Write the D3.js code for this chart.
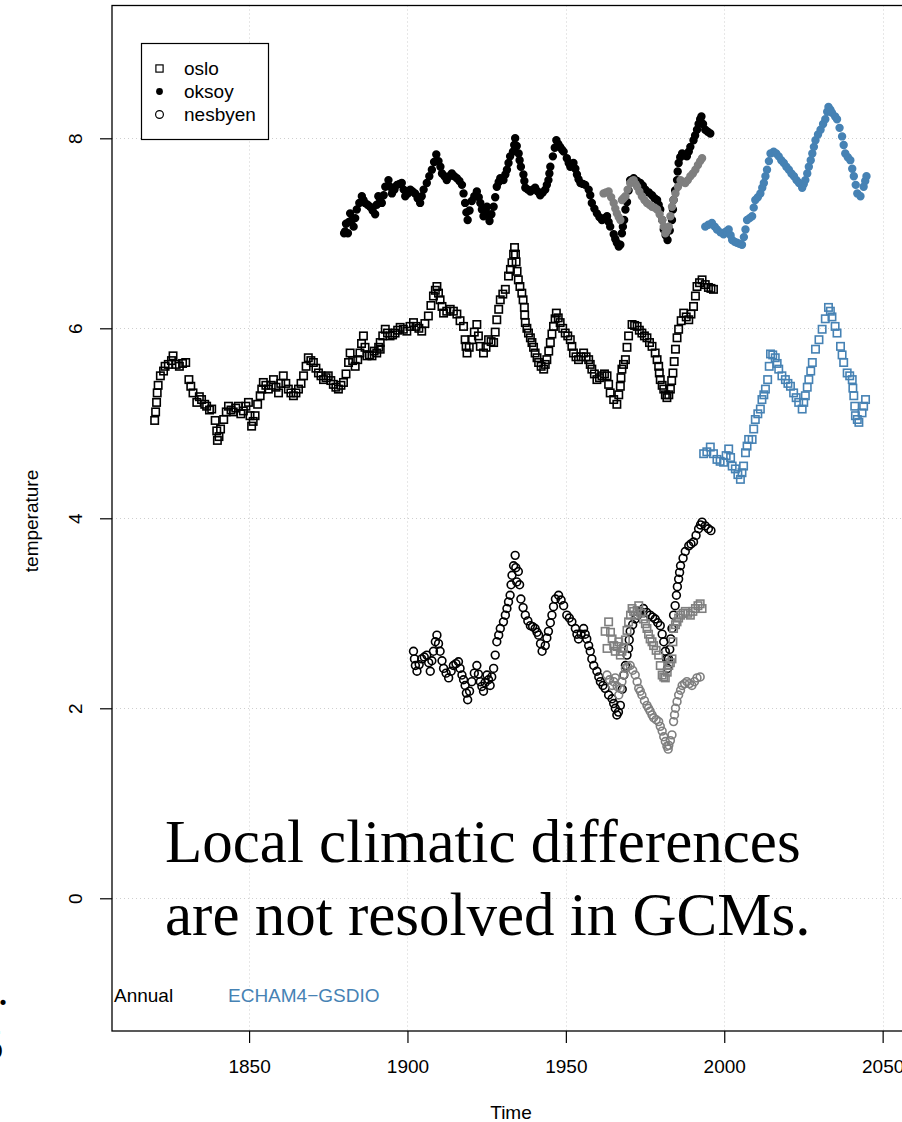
<!DOCTYPE html>
<html>
<head>
<meta charset="utf-8">
<script src="https://cdn.jsdelivr.net/npm/d3@7/dist/d3.min.js"></script>
<style>
  body { margin: 0; background: #ffffff; }
  svg { display: block; }
</style>
</head>
<body>
<svg id="chart" width="902" height="1122"></svg>
<script>
// Station annual temperature series, [year, temperature] pairs
const oslo = [
  [1820.2,5.03],[1820.5,5.12],[1820.8,5.22],[1821.0,5.32],[1821.3,5.40],[1822.0,5.50],[1823.0,5.55],[1823.5,5.60],
  [1824.5,5.62],[1825.5,5.66],[1826.0,5.71],[1827.0,5.62],[1828.0,5.60],[1829.0,5.63],[1830.0,5.64],[1831.0,5.46],
  [1831.6,5.39],[1832.3,5.32],[1833.5,5.22],[1834.3,5.28],[1835.0,5.25],[1836.0,5.20],[1836.6,5.18],[1837.5,5.14],
  [1838.2,5.15],[1839.3,5.03],[1839.8,4.92],[1840.0,4.82],[1840.5,4.86],[1841.0,4.94],[1842.0,5.04],[1842.8,5.12],
  [1843.5,5.18],[1844.3,5.14],[1845.0,5.12],[1845.8,5.16],[1846.6,5.18],[1847.4,5.10],[1848.2,5.13],[1849.0,5.18],
  [1849.8,5.22],[1850.3,5.08],[1850.8,4.97],[1851.3,5.02],[1851.9,5.08],[1852.7,5.20],[1853.5,5.29],[1854.0,5.36],
  [1854.5,5.43],[1855.3,5.40],[1856.1,5.36],[1857.0,5.40],[1857.7,5.46],[1858.5,5.38],[1859.3,5.32],[1860.0,5.42],
  [1860.8,5.50],[1861.6,5.42],[1862.4,5.36],[1863.2,5.32],[1864.0,5.29],[1864.8,5.32],[1865.6,5.36],[1866.4,5.42],
  [1867.2,5.50],[1868.0,5.60],[1868.7,5.69],[1869.5,5.66],[1870.3,5.64],[1871.1,5.58],[1871.9,5.53],[1872.7,5.50],
  [1873.5,5.46],[1874.3,5.48],[1875.0,5.50],[1875.8,5.45],[1876.6,5.41],[1877.4,5.38],[1878.2,5.36],[1879.0,5.40],
  [1879.8,5.43],[1880.6,5.52],[1881.4,5.64],[1881.9,5.74],[1882.7,5.66],[1883.5,5.60],[1884.3,5.67],[1885.0,5.74],
  [1885.5,5.84],[1886.1,5.92],[1886.6,5.80],[1887.2,5.71],[1888.0,5.72],[1888.8,5.71],[1889.5,5.76],[1890.3,5.74],
  [1890.9,5.80],[1891.4,5.85],[1891.4,5.78],[1892.2,5.92],[1893.0,5.99],[1893.7,5.95],[1894.5,5.92],[1895.3,5.93],
  [1896.1,5.95],[1896.9,5.98],[1897.7,6.01],[1898.7,5.99],[1899.8,5.97],[1900.8,6.02],[1901.9,6.06],[1902.7,6.02],
  [1903.6,6.00],[1904.5,5.97],[1905.5,6.05],[1906.6,6.13],[1907.4,6.24],[1908.2,6.34],[1908.8,6.40],[1909.3,6.44],
  [1909.8,6.37],[1910.3,6.30],[1910.9,6.23],[1911.4,6.16],[1912.4,6.18],[1913.5,6.20],[1914.5,6.18],[1915.6,6.15],
  [1916.6,6.08],[1917.7,6.02],[1918.2,5.88],[1918.5,5.81],[1918.8,5.74],[1919.5,5.80],[1920.3,5.88],[1921.1,5.96],
  [1921.9,6.04],[1922.4,5.92],[1923.0,5.81],[1924.0,5.74],[1924.8,5.80],[1925.6,5.88],[1926.4,5.86],[1927.2,5.85],
  [1927.7,5.96],[1928.2,6.09],[1928.8,6.20],[1929.3,6.30],[1930.1,6.36],[1930.9,6.41],[1931.9,6.55],[1932.5,6.62],
  [1933.0,6.69],[1933.5,6.78],[1933.8,6.85],[1934.1,6.78],[1934.3,6.70],[1934.6,6.60],[1935.0,6.51],[1935.5,6.44],
  [1936.1,6.37],[1936.5,6.30],[1936.9,6.22],[1937.0,6.14],[1937.2,6.06],[1937.7,6.00],[1938.2,5.95],[1938.8,5.90],
  [1939.3,5.85],[1939.8,5.80],[1940.3,5.74],[1940.9,5.69],[1941.4,5.64],[1942.2,5.60],[1943.0,5.57],[1943.5,5.62],
  [1944.0,5.67],[1944.6,5.76],[1945.1,5.85],[1945.6,5.94],[1946.1,6.02],[1946.6,6.10],[1947.0,6.16],[1947.6,6.11],
  [1948.2,6.06],[1949.0,6.00],[1949.8,5.95],[1950.6,5.92],[1951.4,5.88],[1951.9,5.81],[1952.4,5.74],[1953.2,5.70],
  [1954.0,5.67],[1954.8,5.70],[1955.6,5.74],[1956.4,5.70],[1957.2,5.67],[1957.7,5.62],[1958.2,5.57],[1959.0,5.52],
  [1959.8,5.46],[1960.6,5.48],[1961.4,5.50],[1962.2,5.52],[1963.0,5.50],[1963.5,5.41],[1964.0,5.32],[1965.1,5.25],
  [1966.1,5.20],[1966.7,5.30],[1967.2,5.39],[1967.4,5.48],[1967.7,5.57],[1968.2,5.62],[1968.8,5.67],[1969.3,5.80],
  [1969.8,5.92],[1970.9,6.04],[1971.7,6.03],[1972.5,6.02],[1973.2,5.98],[1974.0,5.95],[1974.8,5.92],[1975.6,5.90],
  [1976.4,5.85],[1977.2,5.81],[1978.2,5.74],[1978.8,5.67],[1979.3,5.60],[1979.5,5.53],[1979.8,5.46],[1980.4,5.40],
  [1980.9,5.36],[1981.4,5.30],[1981.9,5.27],[1982.5,5.30],[1983.0,5.36],[1983.4,5.45],[1983.8,5.53],[1984.2,5.65],
  [1984.6,5.78],[1985.1,5.90],[1985.6,5.99],[1986.4,6.08],[1987.2,6.16],[1988.0,6.12],[1988.8,6.09],[1989.5,6.15],
  [1990.3,6.23],[1990.9,6.34],[1991.4,6.44],[1992.2,6.48],[1993.0,6.51],[1994.0,6.46],[1995.0,6.43],[1995.8,6.42],
  [1996.6,6.41]
];

const oksoy = [
  [1880.0,7.00],[1880.3,7.02],[1880.6,7.10],[1881.2,7.00],[1881.5,7.12],[1881.9,7.21],[1882.5,7.14],[1883.0,7.07],
  [1883.5,7.16],[1884.0,7.25],[1884.8,7.32],[1885.6,7.39],[1886.1,7.35],[1886.6,7.32],[1887.4,7.30],[1888.2,7.28],
  [1889.0,7.24],[1889.8,7.20],[1890.3,7.30],[1890.8,7.39],[1891.4,7.35],[1891.9,7.32],[1892.5,7.40],[1893.0,7.49],
  [1894.0,7.56],[1894.5,7.49],[1895.1,7.42],[1895.9,7.46],[1896.7,7.51],[1897.5,7.52],[1898.2,7.53],[1898.8,7.46],
  [1899.3,7.39],[1900.1,7.42],[1900.9,7.46],[1901.6,7.44],[1902.4,7.42],[1903.2,7.37],[1904.0,7.32],[1904.5,7.39],
  [1905.1,7.46],[1906.1,7.53],[1906.9,7.60],[1907.7,7.67],[1908.4,7.75],[1909.1,7.83],[1909.8,7.76],[1910.4,7.70],
  [1910.9,7.63],[1911.7,7.60],[1912.4,7.56],[1913.2,7.60],[1914.0,7.63],[1914.8,7.60],[1915.6,7.58],[1916.4,7.55],
  [1917.2,7.51],[1917.7,7.42],[1918.2,7.32],[1918.6,7.22],[1919.0,7.14],[1919.6,7.24],[1920.3,7.34],[1921.1,7.39],
  [1921.9,7.44],[1922.5,7.38],[1923.0,7.32],[1923.5,7.25],[1924.0,7.18],[1924.6,7.23],[1925.1,7.28],[1925.5,7.20],
  [1925.9,7.13],[1926.5,7.20],[1927.2,7.28],[1927.7,7.38],[1928.2,7.49],[1928.8,7.54],[1929.3,7.58],[1930.3,7.56],
  [1930.9,7.62],[1931.4,7.67],[1931.9,7.74],[1932.4,7.81],[1933.3,7.86],[1933.7,7.93],[1934.0,8.00],[1934.5,7.92],
  [1935.1,7.84],[1935.4,7.77],[1935.8,7.70],[1936.6,7.62],[1936.9,7.55],[1937.2,7.48],[1938.0,7.46],[1938.8,7.44],
  [1939.5,7.46],[1940.3,7.48],[1941.1,7.44],[1941.9,7.40],[1942.7,7.43],[1943.5,7.46],[1944.0,7.51],[1944.5,7.56],
  [1944.8,7.63],[1945.1,7.70],[1945.9,7.81],[1946.5,7.90],[1947.0,7.98],[1947.6,7.94],[1948.2,7.91],[1948.8,7.88],
  [1949.3,7.86],[1950.3,7.79],[1950.9,7.74],[1951.4,7.70],[1952.4,7.74],[1953.0,7.68],[1953.5,7.62],[1954.0,7.57],
  [1954.6,7.53],[1955.4,7.52],[1956.1,7.51],[1957.2,7.46],[1957.7,7.40],[1958.2,7.32],[1959.0,7.26],[1959.8,7.21],
  [1960.6,7.17],[1961.4,7.14],[1962.2,7.16],[1963.0,7.18],[1963.5,7.12],[1964.0,7.07],[1965.1,6.99],[1965.6,6.94],
  [1966.1,6.90],[1966.7,6.86],[1967.2,6.88],[1967.7,7.00],[1968.0,7.07],[1968.4,7.14],[1968.8,7.25],[1969.3,7.33],
  [1969.8,7.45],[1970.3,7.56],[1971.4,7.58],[1972.5,7.55],[1973.5,7.53],[1974.3,7.50],[1975.1,7.46],[1976.2,7.43],
  [1977.2,7.40],[1978.0,7.37],[1978.8,7.35],[1979.3,7.30],[1979.8,7.25],[1980.4,7.14],[1980.9,7.04],[1981.5,6.98],
  [1982.1,6.93],[1982.8,7.03],[1983.5,7.14],[1983.8,7.25],[1984.0,7.35],[1984.5,7.45],[1985.1,7.56],[1985.3,7.65],
  [1985.6,7.74],[1986.1,7.80],[1986.7,7.84],[1987.4,7.82],[1988.2,7.81],[1988.8,7.86],[1989.3,7.91],[1990.3,7.98],
  [1990.8,8.03],[1991.4,8.09],[1991.9,8.15],[1992.4,8.20],[1992.8,8.23],[1993.3,8.15],[1994.0,8.09],[1994.8,8.07],
  [1995.6,8.05]
];

const nesbyen = [
  [1901.9,2.60],[1902.2,2.52],[1902.5,2.45],[1903.0,2.39],[1903.7,2.46],[1904.5,2.52],[1905.3,2.54],[1906.1,2.56],
  [1906.7,2.48],[1907.2,2.39],[1907.7,2.50],[1908.2,2.60],[1908.8,2.70],[1909.3,2.77],[1909.8,2.68],[1910.3,2.60],
  [1910.9,2.50],[1911.4,2.42],[1912.2,2.37],[1913.0,2.32],[1913.8,2.39],[1914.5,2.45],[1915.3,2.47],[1916.1,2.49],
  [1916.6,2.42],[1917.2,2.35],[1917.7,2.30],[1918.2,2.24],[1918.6,2.16],[1919.0,2.09],[1919.6,2.18],[1920.3,2.28],
  [1921.1,2.37],[1921.9,2.45],[1922.4,2.36],[1923.0,2.28],[1923.5,2.23],[1924.0,2.18],[1924.5,2.27],[1925.1,2.35],
  [1925.6,2.30],[1926.1,2.24],[1926.6,2.33],[1927.2,2.42],[1927.7,2.56],[1928.2,2.70],[1928.8,2.77],[1929.3,2.84],
  [1930.3,2.91],[1930.9,2.98],[1931.4,3.05],[1931.9,3.12],[1932.4,3.19],[1932.7,3.30],[1933.0,3.40],[1933.5,3.50],
  [1934.0,3.61],[1934.2,3.48],[1934.5,3.33],[1935.0,3.44],[1935.4,3.30],[1935.8,3.15],[1936.5,3.06],[1937.2,2.98],
  [1938.0,2.92],[1938.8,2.87],[1939.5,2.86],[1940.3,2.84],[1940.9,2.80],[1941.4,2.77],[1942.0,2.68],[1942.5,2.60],
  [1943.5,2.66],[1944.0,2.74],[1944.5,2.81],[1945.1,2.90],[1945.6,2.98],[1946.1,3.07],[1946.7,3.15],[1947.7,3.19],
  [1948.5,3.14],[1949.3,3.08],[1950.3,2.98],[1951.1,2.95],[1951.9,2.91],[1953.0,2.84],[1953.5,2.78],[1954.0,2.73],
  [1954.8,2.78],[1955.6,2.84],[1956.1,2.78],[1956.6,2.73],[1957.2,2.66],[1957.7,2.60],[1958.2,2.52],[1958.8,2.45],
  [1959.8,2.39],[1960.4,2.33],[1960.9,2.28],[1961.7,2.24],[1962.4,2.21],[1963.5,2.14],[1964.6,2.10],[1965.1,2.05],
  [1965.6,2.00],[1966.1,1.93],[1966.6,1.96],[1967.2,2.03],[1967.8,2.20],[1968.3,2.35],[1968.8,2.45],[1969.3,2.56],
  [1969.8,2.63],[1970.0,2.72],[1970.3,2.81],[1971.1,2.88],[1971.9,2.94],[1972.7,2.98],[1973.5,3.02],[1974.5,3.05],
  [1975.5,3.01],[1976.6,2.98],[1977.4,2.96],[1978.2,2.94],[1979.0,2.90],[1979.8,2.87],[1980.4,2.78],[1980.9,2.70],
  [1981.4,2.60],[1981.8,2.52],[1982.1,2.42],[1982.4,2.52],[1982.8,2.62],[1983.1,2.73],[1983.5,2.84],[1984.0,2.98],
  [1984.5,3.08],[1984.9,3.19],[1985.2,3.28],[1985.6,3.36],[1985.9,3.43],[1986.2,3.50],[1987.0,3.58],[1987.7,3.65],
  [1988.8,3.71],[1989.5,3.73],[1990.3,3.75],[1991.1,3.82],[1991.9,3.89],[1992.5,3.93],[1993.0,3.96],[1994.0,3.92],
  [1995.0,3.89],[1995.8,3.87]
];

// GCM values at the station locations, 1962-1993
const osloGcm = [
  [1962.4,2.81],[1963.0,2.63],[1963.5,2.91],[1964.1,2.80],[1964.6,2.73],[1965.1,2.66],[1965.6,2.60],[1966.2,2.65],
  [1966.7,2.70],[1967.2,2.56],[1967.7,2.60],[1968.2,2.63],[1968.8,2.72],[1969.3,2.82],[1969.8,2.91],[1970.4,2.98],
  [1970.9,3.05],[1971.4,3.02],[1971.9,2.98],[1972.5,3.03],[1973.0,3.08],[1973.7,3.00],[1974.5,2.94],[1975.1,2.89],
  [1975.6,2.84],[1976.1,2.78],[1976.6,2.73],[1977.2,2.70],[1977.7,2.66],[1978.5,2.61],[1979.3,2.56],[1979.8,2.45],
  [1980.4,2.35],[1980.9,2.33],[1981.4,2.32],[1982.0,2.38],[1982.5,2.45],[1983.0,2.48],[1983.5,2.52],[1983.8,2.70],
  [1984.0,2.84],[1984.6,2.88],[1985.1,2.91],[1985.6,2.95],[1986.2,2.98],[1987.0,3.00],[1987.7,3.02],[1988.5,3.00],
  [1989.3,2.98],[1990.1,3.02],[1990.9,3.05],[1991.7,3.08],[1992.4,3.10],[1993.0,3.05]
];

const oksoyGcm = [
  [1961.9,7.42],[1962.7,7.43],[1963.5,7.44],[1964.3,7.38],[1965.1,7.32],[1965.6,7.26],[1966.1,7.21],[1966.7,7.17],
  [1967.2,7.14],[1967.7,7.35],[1968.2,7.37],[1968.8,7.39],[1969.5,7.46],[1970.3,7.53],[1970.9,7.55],[1971.4,7.56],
  [1972.0,7.52],[1972.5,7.49],[1973.2,7.44],[1974.0,7.39],[1974.8,7.35],[1975.6,7.32],[1976.4,7.30],[1977.2,7.28],
  [1978.0,7.27],[1978.8,7.25],[1979.6,7.20],[1980.4,7.14],[1980.9,7.07],[1981.4,7.00],[1982.0,7.03],[1982.5,7.07],
  [1983.0,7.18],[1983.5,7.28],[1984.0,7.35],[1984.6,7.42],[1985.4,7.49],[1986.2,7.56],[1987.0,7.54],[1987.7,7.53],
  [1988.5,7.56],[1989.3,7.60],[1990.1,7.63],[1990.9,7.67],[1991.7,7.72],[1992.4,7.76],[1993.0,7.79]
];

const nesbyenGcm = [
  [1963.0,2.35],[1963.8,2.30],[1964.6,2.24],[1965.1,2.28],[1965.6,2.32],[1966.2,2.23],[1966.7,2.14],[1967.2,2.21],
  [1967.7,2.28],[1968.2,2.35],[1968.8,2.42],[1969.5,2.44],[1970.3,2.45],[1971.1,2.40],[1971.9,2.35],[1972.5,2.28],
  [1973.0,2.21],[1973.5,2.18],[1974.0,2.14],[1974.8,2.08],[1975.6,2.03],[1976.1,2.00],[1976.6,1.97],[1977.2,1.93],
  [1977.7,1.90],[1978.5,1.88],[1979.3,1.86],[1979.8,1.81],[1980.4,1.76],[1980.9,1.70],[1981.4,1.65],[1981.9,1.60],
  [1982.3,1.57],[1982.5,1.61],[1983.0,1.66],[1983.5,1.72],[1984.0,1.86],[1984.3,1.93],[1984.6,2.00],[1985.1,2.07],
  [1985.6,2.14],[1986.2,2.19],[1986.7,2.24],[1987.5,2.26],[1988.2,2.28],[1989.0,2.26],[1989.8,2.24],[1990.6,2.28],
  [1991.4,2.32],[1992.4,2.33]
];

// ECHAM4-GSDIO downscaled scenario, 1993-2045
const osloScen = [
  [1993.5,4.68],[1994.5,4.70],[1995.6,4.75],[1996.6,4.68],[1997.7,4.62],[1998.7,4.60],[1999.8,4.59],[2000.6,4.66],
  [2001.4,4.73],[2002.0,4.64],[2002.5,4.55],[2003.5,4.52],[2004.3,4.46],[2005.1,4.41],[2005.6,4.48],[2006.1,4.55],
  [2006.7,4.69],[2007.2,4.76],[2007.7,4.83],[2008.8,4.83],[2009.3,4.94],[2009.8,5.04],[2010.6,5.10],[2011.4,5.15],
  [2011.9,5.25],[2012.5,5.30],[2013.0,5.36],[2013.7,5.46],[2014.2,5.60],[2014.6,5.73],[2015.3,5.72],[2016.1,5.69],
  [2016.7,5.63],[2017.2,5.57],[2018.2,5.50],[2019.3,5.46],[2020.1,5.42],[2020.9,5.39],[2021.9,5.32],[2022.7,5.27],
  [2023.5,5.22],[2024.6,5.15],[2025.1,5.22],[2025.6,5.29],[2026.2,5.38],[2026.7,5.46],[2027.3,5.55],[2027.8,5.64],
  [2028.8,5.78],[2029.9,5.88],[2030.9,5.99],[2031.9,6.10],[2032.9,6.22],[2033.5,6.18],[2034.0,6.12],[2035.0,6.02],
  [2035.6,5.95],[2036.7,5.81],[2037.2,5.72],[2037.7,5.64],[2038.8,5.53],[2039.6,5.50],[2040.4,5.46],[2040.6,5.37],
  [2040.9,5.29],[2041.2,5.18],[2041.4,5.08],[2042.0,5.04],[2042.5,5.01],[2043.5,5.11],[2044.0,5.18],[2044.6,5.25]
];

const oksoyScen = [
  [1994.0,7.07],[1995.0,7.09],[1996.1,7.11],[1997.0,7.07],[1997.7,7.04],[1998.8,7.01],[1999.8,6.99],[2000.6,7.02],
  [2001.4,7.04],[2002.0,6.98],[2002.5,6.93],[2003.3,6.91],[2004.0,6.90],[2004.8,6.89],[2005.6,6.88],[2006.2,6.96],
  [2006.7,7.04],[2007.2,7.14],[2008.0,7.16],[2008.8,7.18],[2009.3,7.27],[2009.8,7.35],[2010.6,7.38],[2011.4,7.42],
  [2012.0,7.48],[2012.5,7.53],[2013.0,7.60],[2013.5,7.67],[2014.1,7.76],[2014.6,7.84],[2015.6,7.86],[2016.4,7.84],
  [2017.2,7.81],[2018.0,7.77],[2018.8,7.74],[2019.6,7.70],[2020.4,7.67],[2021.2,7.63],[2022.0,7.60],[2022.8,7.56],
  [2023.6,7.53],[2024.6,7.48],[2025.1,7.52],[2025.6,7.56],[2026.2,7.63],[2026.7,7.70],[2027.3,7.77],[2027.8,7.84],
  [2028.3,7.91],[2028.8,7.98],[2029.6,8.04],[2030.4,8.09],[2031.2,8.15],[2031.9,8.20],[2032.5,8.28],[2032.9,8.33],
  [2033.5,8.30],[2034.0,8.27],[2035.0,8.23],[2035.6,8.20],[2036.4,8.11],[2037.2,8.02],[2037.7,7.93],[2038.2,7.84],
  [2039.0,7.80],[2039.8,7.77],[2040.4,7.68],[2040.9,7.60],[2041.5,7.51],[2042.0,7.42],[2043.0,7.39],[2044.0,7.49],
  [2044.5,7.55],[2044.9,7.60]
];

const xTicks = [1850, 1900, 1950, 2000, 2050];
const yTicks = [0, 2, 4, 6, 8];
const legendNames = ["oslo", "oksoy", "nesbyen"];
const legendShapes = ["square", "dot", "circle"];

const BLACK = "#000000", GREY = "#7f7f7f", BLUE = "#4682b4";
const SANS = "'Liberation Sans', Arial, Helvetica, sans-serif";
const SERIF = "'Liberation Serif', 'Times New Roman', serif";

const svg = d3.select("#chart");
const plot = { left: 112, top: 5.5, right: 946, bottom: 1031 };

const x = d3.scaleLinear().domain([1806.73, 2070]).range([plot.left, plot.right]);
const y = d3.scaleLinear().domain([-1.397, 9.398]).range([plot.bottom, plot.top]);

// dotted grid
const grid = svg.append("g").attr("stroke", "#cfcfcf").attr("stroke-width", 1).attr("stroke-dasharray", "1,3");
grid.selectAll("line.gx").data(xTicks).join("line")
  .attr("x1", d => Math.round(x(d)) + 0.5).attr("x2", d => Math.round(x(d)) + 0.5)
  .attr("y1", plot.top).attr("y2", plot.bottom);
grid.selectAll("line.gy").data(yTicks).join("line")
  .attr("y1", d => Math.round(y(d)) + 0.5).attr("y2", d => Math.round(y(d)) + 0.5)
  .attr("x1", plot.left).attr("x2", plot.right);

// markers
const SQ = 7.4, R_OPEN = 3.9, R_DOT = 3.4, SW = 1.6;
function drawSeries(data, shape, colour) {
  const g = svg.append("g");
  if (shape === "square") {
    g.selectAll("rect").data(data).join("rect")
      .attr("x", d => x(d[0]) - SQ / 2).attr("y", d => y(d[1]) - SQ / 2)
      .attr("width", SQ).attr("height", SQ)
      .attr("fill", "none").attr("stroke", colour).attr("stroke-width", SW);
  } else if (shape === "dot") {
    g.selectAll("circle").data(data).join("circle")
      .attr("cx", d => x(d[0])).attr("cy", d => y(d[1])).attr("r", R_DOT)
      .attr("fill", colour).attr("stroke", colour).attr("stroke-width", SW);
  } else {
    g.selectAll("circle").data(data).join("circle")
      .attr("cx", d => x(d[0])).attr("cy", d => y(d[1])).attr("r", R_OPEN)
      .attr("fill", "none").attr("stroke", colour).attr("stroke-width", SW);
  }
}
drawSeries(oslo, "square", BLACK);
drawSeries(oksoy, "dot", BLACK);
drawSeries(nesbyen, "circle", BLACK);
drawSeries(osloGcm, "square", GREY);
drawSeries(oksoyGcm, "dot", GREY);
drawSeries(nesbyenGcm, "circle", GREY);
drawSeries(osloScen, "square", BLUE);
drawSeries(oksoyScen, "dot", BLUE);

// axes
const xAxis = svg.append("g").attr("transform", `translate(0,${plot.bottom})`)
  .call(d3.axisBottom(x).tickValues(xTicks).tickSize(12).tickPadding(17).tickFormat(d3.format("d")));
xAxis.select(".domain").remove();
xAxis.selectAll("line").attr("stroke", "#000").attr("stroke-width", 1.2);
xAxis.selectAll("text").attr("font-family", SANS).attr("font-size", 19).attr("fill", "#000")
  .attr("dy", null).attr("y", 42);

const yAxis = svg.append("g").attr("transform", `translate(${plot.left},0)`)
  .call(d3.axisLeft(y).tickValues(yTicks).tickSize(12).tickFormat(d3.format("d")));
yAxis.select(".domain").remove();
yAxis.selectAll("line").attr("stroke", "#000").attr("stroke-width", 1.2);
yAxis.selectAll("text").attr("font-family", SANS).attr("font-size", 19).attr("fill", "#000")
  .attr("x", null).attr("dy", null).attr("text-anchor", "middle")
  .attr("transform", "translate(-30,0) rotate(-90)");

// plot frame
svg.append("rect").attr("x", plot.left).attr("y", plot.top)
  .attr("width", plot.right - plot.left).attr("height", plot.bottom - plot.top)
  .attr("fill", "none").attr("stroke", "#000").attr("stroke-width", 1.3);

// axis titles
svg.append("text").attr("x", 511).attr("y", 1119).attr("text-anchor", "middle")
  .attr("font-family", SANS).attr("font-size", 19).text("Time");
svg.append("text").attr("transform", "translate(38,521) rotate(-90)").attr("text-anchor", "middle")
  .attr("font-family", SANS).attr("font-size", 19).text("temperature");

// legend
const lg = svg.append("g");
lg.append("rect").attr("x", 141.5).attr("y", 43.5).attr("width", 127).attr("height", 96)
  .attr("fill", "#fff").attr("stroke", "#000").attr("stroke-width", 1.2);
legendNames.forEach((name, i) => {
  const cy = 68.5 + i * 23, cx = 159.5;
  if (legendShapes[i] === "square") {
    lg.append("rect").attr("x", cx - 3.6).attr("y", cy - 3.6).attr("width", 7.2).attr("height", 7.2)
      .attr("fill", "none").attr("stroke", "#000").attr("stroke-width", 1.2);
  } else if (legendShapes[i] === "dot") {
    lg.append("circle").attr("cx", cx).attr("cy", cy).attr("r", R_DOT).attr("fill", "#000");
  } else {
    lg.append("circle").attr("cx", cx).attr("cy", cy).attr("r", R_OPEN)
      .attr("fill", "none").attr("stroke", "#000").attr("stroke-width", 1.2);
  }
  lg.append("text").attr("x", 184).attr("y", cy + 6.5).attr("font-family", SANS).attr("font-size", 19)
    .text(name);
});

// annotations
svg.append("text").attr("x", 114).attr("y", 1002).attr("font-family", SANS).attr("font-size", 19).text("Annual");
svg.append("text").attr("x", 228).attr("y", 1002).attr("font-family", SANS).attr("font-size", 19)
  .attr("fill", BLUE).text("ECHAM4\u2212GSDIO");

svg.append("text").attr("x", 165).attr("y", 862).attr("font-family", SERIF).attr("font-size", 61)
  .text("Local climatic differences");
svg.append("text").attr("x", 165).attr("y", 935).attr("font-family", SERIF).attr("font-size", 61)
  .text("are not resolved in GCMs.");

// page text that runs in from the left margin
svg.append("text").attr("x", 8.5).attr("y", 1004.5).attr("text-anchor", "end")
  .attr("font-family", SERIF).attr("font-size", 44).text(".");
svg.append("text").attr("x", 3.5).attr("y", 1060).attr("text-anchor", "end")
  .attr("font-family", SERIF).attr("font-size", 44).text("5");
</script>
</body>
</html>
